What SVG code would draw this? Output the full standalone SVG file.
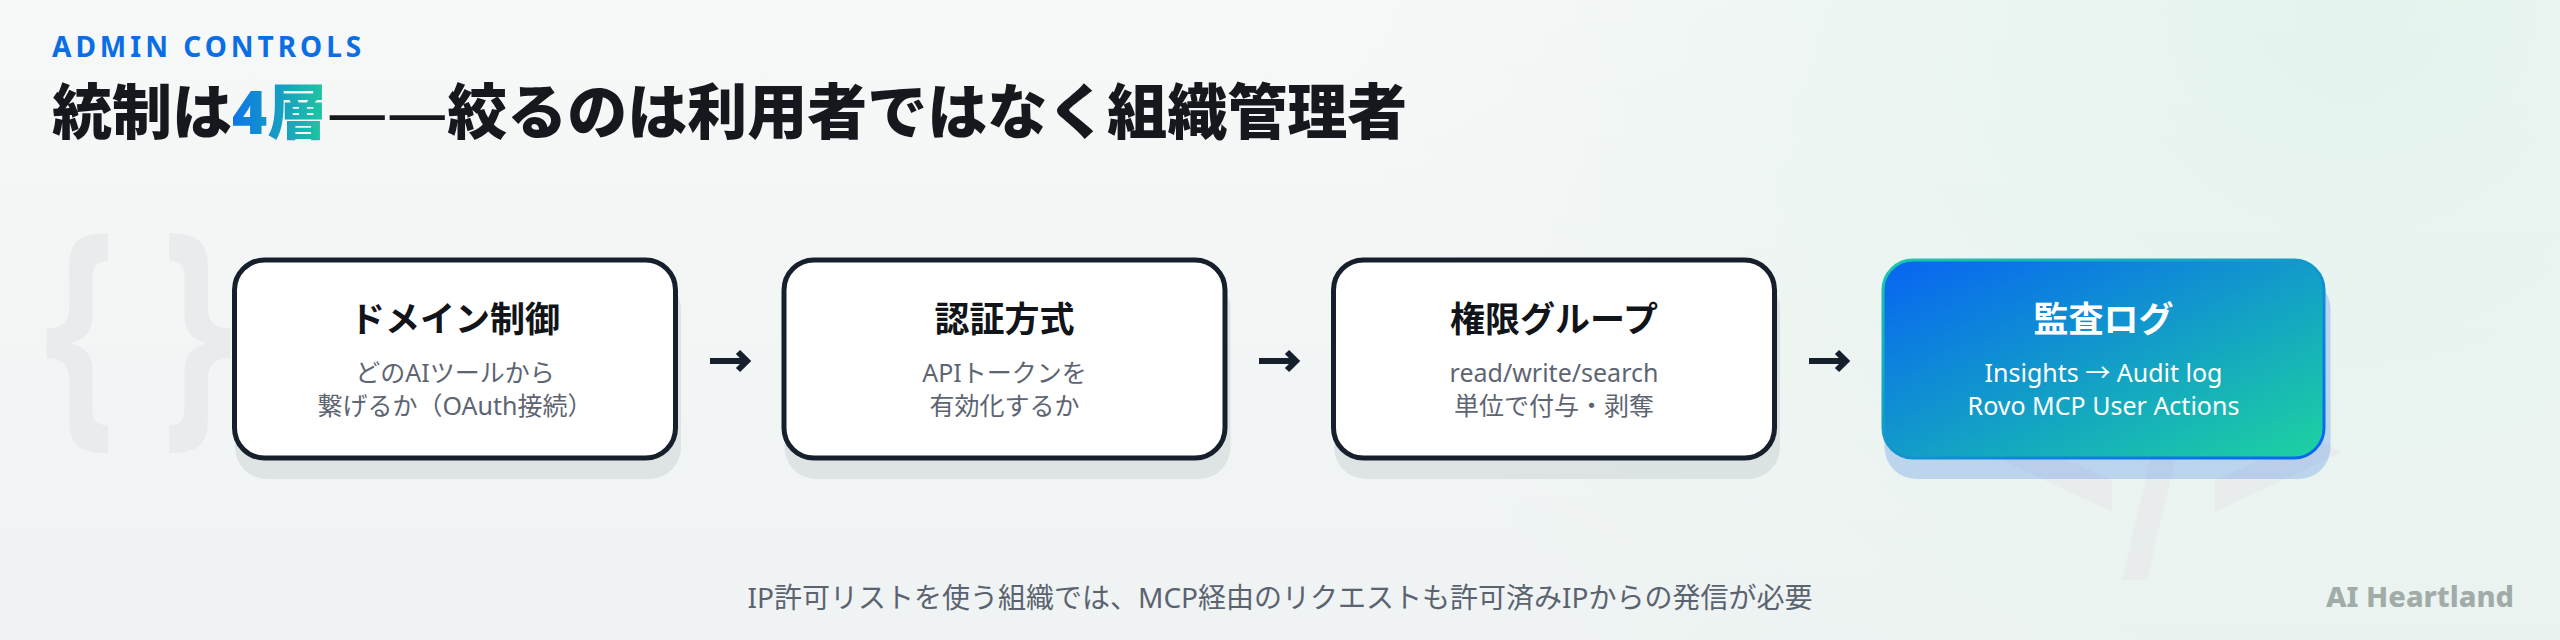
<svg xmlns="http://www.w3.org/2000/svg" width="2560" height="640" viewBox="0 0 2560 640">
  <defs>
    <linearGradient id="bg" x1="0" y1="0" x2="0" y2="1">
      <stop offset="0" stop-color="#f7f8f8"/>
      <stop offset="1" stop-color="#eff3f3"/>
    </linearGradient>
    <radialGradient id="tint" cx="2350" cy="0" r="1000" gradientUnits="userSpaceOnUse">
      <stop offset="0" stop-color="#e2f3ec" stop-opacity="0.9"/>
      <stop offset="1" stop-color="#e2f3ec" stop-opacity="0"/>
    </radialGradient>
    <linearGradient id="accent" x1="222" y1="0" x2="322" y2="0" gradientUnits="userSpaceOnUse">
      <stop offset="0" stop-color="#0a6cf0"/>
      <stop offset="1" stop-color="#1ec4a2"/>
    </linearGradient>
    <linearGradient id="hl" x1="0" y1="0" x2="1" y2="1">
      <stop offset="0" stop-color="#0764f3"/>
      <stop offset="1" stop-color="#1dd3a0"/>
    </linearGradient>
    <linearGradient id="hlStroke" x1="0" y1="0" x2="1" y2="1">
      <stop offset="0" stop-color="#1dc8a8"/>
      <stop offset="1" stop-color="#0764f3"/>
    </linearGradient>
    <marker id="ah" markerWidth="20" markerHeight="26" refX="12" refY="13" orient="auto" markerUnits="userSpaceOnUse" viewBox="0 0 20 26">
      <path d="M4 4 L13 13 L4 22" fill="none" stroke="#16202c" stroke-width="6"/>
    </marker>
    <style>
      .jp { font-family: 'Noto Sans', 'Noto Sans CJK JP', sans-serif; }
      .box { fill: #ffffff; stroke: #16202c; stroke-width: 5; }
      .shadow { fill: #1e3246; fill-opacity: 0.09; }
      .shadow-hl { fill: #2a78e0; fill-opacity: 0.25; }
      .hlbox { fill: url(#hl); stroke: url(#hlStroke); stroke-width: 3; }
      .t { font-size: 35px; font-weight: 700; fill: #111418; text-anchor: middle; }
      .s { font-size: 25px; font-weight: 400; fill: #5d6572; text-anchor: middle; }
      .w { fill: #ffffff; }
      .conn { fill: none; stroke: #16202c; stroke-width: 6; marker-end: url(#ah); }
      .deco { fill: #e9ecec; }
      .brace { font-family: 'Noto Sans', sans-serif; font-weight: 700; font-size: 180px; }
    </style>
  </defs>

  <rect width="2560" height="640" fill="url(#bg)"/>
  <rect width="2560" height="640" fill="url(#tint)"/>

  <g id="decor">
    <g transform="translate(0,413) scale(1,1.4)">
      <text class="deco brace" x="44" y="0">{</text>
      <text class="deco brace" x="162" y="0">}</text>
    </g>
    <polygon class="deco" points="2112,512 1985,452 2112,392 2112,424 2048,452 2112,480"/>
    <polygon class="deco" points="2215,512 2342,452 2215,392 2215,424 2279,452 2215,480"/>
    <polygon class="deco" points="2122,580 2147,580 2207,324 2182,324"/>
  </g>

  <g id="header" class="jp">
    <text x="52" y="57" font-size="28" font-weight="700" letter-spacing="4" fill="#0a6ee6">ADMIN CONTROLS</text>
    <text x="52" y="134" font-size="60" font-weight="900" fill="#15181d">統制は<tspan fill="url(#accent)">4層</tspan><tspan font-weight="400">——</tspan>絞るのは利用者ではなく組織管理者</text>
  </g>

  <g id="connectors">
    <path class="conn" d="M710 361 H746"/>
    <path class="conn" d="M1259 361 H1295"/>
    <path class="conn" d="M1809 361 H1845"/>
  </g>

  <g id="node-domain" class="jp">
    <rect class="shadow" x="235" y="277" width="446" height="202" rx="32"/>
    <rect class="box" x="234.5" y="260" width="441" height="198" rx="30"/>
    <text class="t" x="455" y="332">ドメイン制御</text>
    <text class="s" x="455" y="382">どのAIツールから</text>
    <text class="s" x="455" y="415">繋げるか（OAuth接続）</text>
  </g>

  <g id="node-auth" class="jp">
    <rect class="shadow" x="784.5" y="277" width="446" height="202" rx="32"/>
    <rect class="box" x="784" y="260" width="441" height="198" rx="30"/>
    <text class="t" x="1004.5" y="332">認証方式</text>
    <text class="s" x="1004.5" y="382">APIトークンを</text>
    <text class="s" x="1004.5" y="415">有効化するか</text>
  </g>

  <g id="node-perm" class="jp">
    <rect class="shadow" x="1334" y="277" width="446" height="202" rx="32"/>
    <rect class="box" x="1333.5" y="260" width="441" height="198" rx="30"/>
    <text class="t" x="1554" y="332">権限グループ</text>
    <text class="s" x="1554" y="382">read/write/search</text>
    <text class="s" x="1554" y="415">単位で付与・剥奪</text>
  </g>

  <g id="node-audit" class="jp">
    <rect class="shadow-hl" x="1884.5" y="277" width="446" height="202" rx="32"/>
    <rect class="hlbox" x="1883" y="260" width="441" height="198" rx="30"/>
    <text class="t w" x="2103.5" y="332">監査ログ</text>
    <text class="s w" x="2103.5" y="382">Insights → Audit log</text>
    <text class="s w" x="2103.5" y="415">Rovo MCP User Actions</text>
  </g>

  <g id="footer" class="jp">
    <text x="1280" y="608" font-size="28" fill="#5b6370" text-anchor="middle">IP許可リストを使う組織では、MCP経由のリクエストも許可済みIPからの発信が必要</text>
    <text x="2514" y="607" font-size="29" font-weight="800" fill="#a1aca8" text-anchor="end">AI Heartland</text>
  </g>
</svg>
